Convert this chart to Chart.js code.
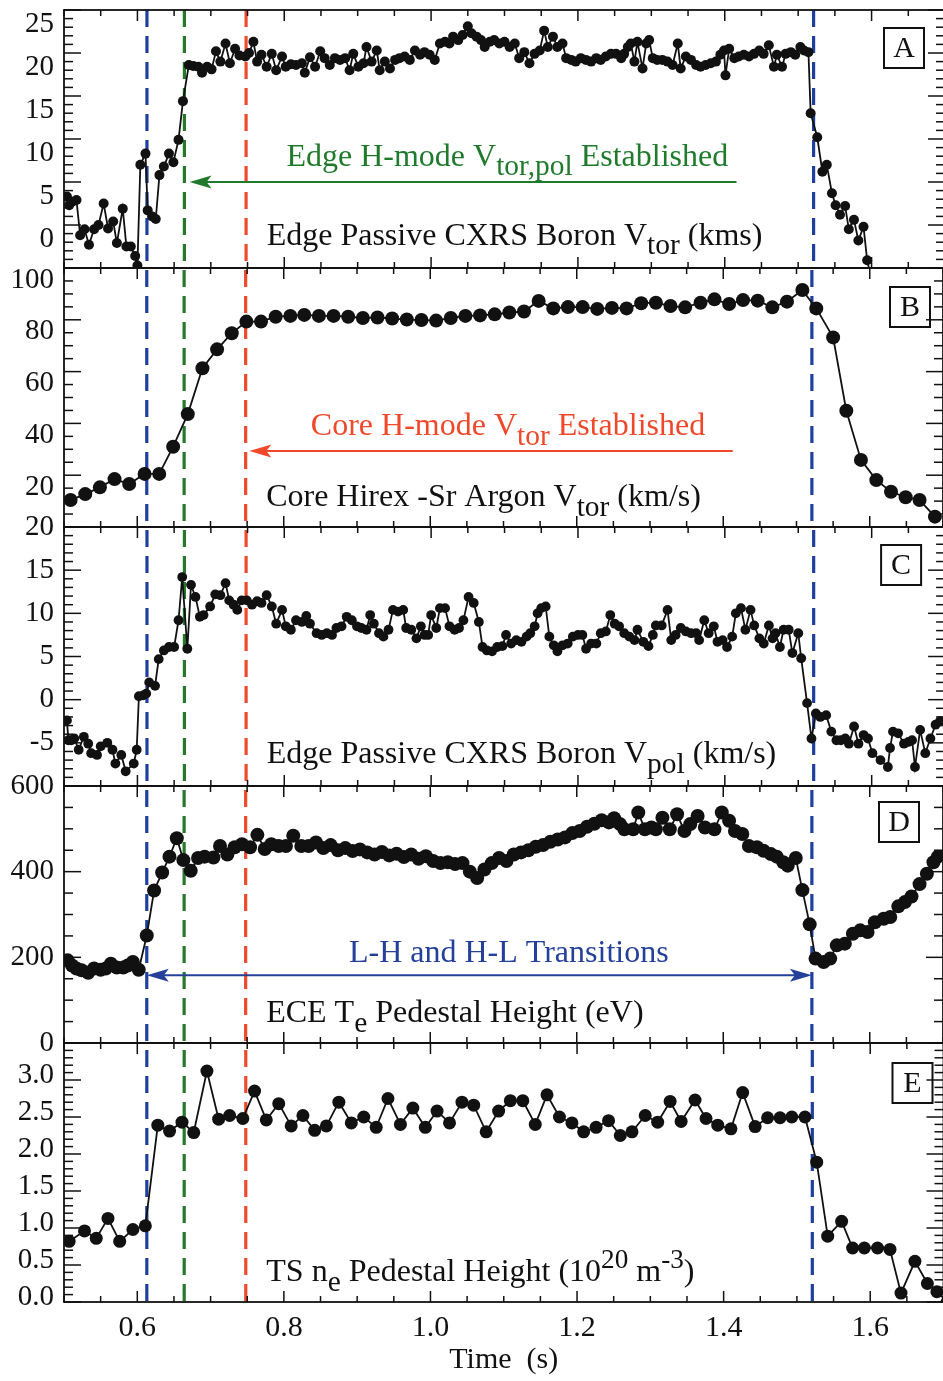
<!DOCTYPE html>
<html>
<head>
<meta charset="utf-8">
<script src="https://cdn.jsdelivr.net/npm/chart.js@4.4.1/dist/chart.umd.min.js"></script>
<style>
  html, body { margin: 0; padding: 0; background: #fff; }
  #wrap { position: relative; width: 943px; height: 1381px; overflow: hidden; background: #fff; }
  #wrap canvas { position: absolute; left: 0; top: 0; }
</style>
</head>
<body>
<div id="wrap">
  <canvas id="panelA" width="950" height="1381"></canvas>
  <canvas id="panelB" width="950" height="1381"></canvas>
  <canvas id="panelC" width="950" height="1381"></canvas>
  <canvas id="panelD" width="950" height="1381"></canvas>
  <canvas id="panelE" width="950" height="1381"></canvas>
</div>
<script>
// [time (s), value] samples for each trace

// edge passive CXRS boron toroidal velocity (km/s)
var edgeVtor = [
  [0.504,3.3],[0.507,2.3],[0.511,2.7],[0.517,2.9],[0.522,-1.2],[0.528,-0.5],[0.534,-2.3],[0.541,-0.5],
  [0.547,0.0],[0.554,2.5],[0.560,-0.4],[0.567,0.4],[0.572,-2.1],[0.580,1.9],[0.585,-2.5],[0.591,-2.5],
  [0.597,-3.6],[0.600,-4.7],[0.604,7.0],[0.611,8.3],[0.614,1.7],[0.620,1.0],[0.625,0.7],[0.630,5.8],
  [0.636,6.8],[0.643,8.3],[0.649,7.3],[0.656,9.9],[0.662,14.4],[0.670,18.6],[0.676,18.5],[0.683,18.4],
  [0.688,17.7],[0.695,18.4],[0.701,18.1],[0.707,20.2],[0.713,19.0],[0.720,21.1],[0.726,18.8],[0.733,20.5],
  [0.739,19.7],[0.747,19.6],[0.752,20.0],[0.758,21.3],[0.763,19.0],[0.769,19.8],[0.776,18.4],[0.783,19.9],
  [0.789,18.0],[0.797,19.6],[0.802,18.4],[0.809,18.7],[0.816,18.6],[0.824,18.8],[0.828,17.7],[0.835,19.5],
  [0.842,18.4],[0.849,20.2],[0.855,19.4],[0.862,18.6],[0.869,19.4],[0.876,19.2],[0.883,19.4],[0.889,18.0],
  [0.894,19.9],[0.901,18.4],[0.908,18.8],[0.912,20.7],[0.919,19.0],[0.926,20.3],[0.930,18.0],[0.937,19.0],
  [0.944,18.2],[0.951,19.2],[0.957,19.4],[0.964,19.6],[0.971,19.2],[0.978,20.3],[0.985,19.8],[0.991,20.1],
  [0.998,19.8],[1.005,19.2],[1.012,21.1],[1.019,21.3],[1.025,21.1],[1.030,21.9],[1.037,21.5],[1.043,22.1],
  [1.050,23.1],[1.055,22.3],[1.062,21.9],[1.068,21.5],[1.073,20.7],[1.080,21.3],[1.086,21.5],[1.093,21.1],
  [1.100,21.3],[1.107,20.7],[1.114,21.1],[1.120,19.4],[1.127,20.1],[1.134,18.8],[1.141,19.9],[1.148,20.3],
  [1.154,22.6],[1.159,20.7],[1.166,21.9],[1.172,20.7],[1.179,21.1],[1.184,19.4],[1.191,19.2],[1.197,19.0],
  [1.204,19.4],[1.211,19.2],[1.218,19.0],[1.225,19.4],[1.231,19.2],[1.238,19.6],[1.245,19.9],[1.252,19.9],
  [1.259,19.4],[1.263,19.9],[1.268,20.7],[1.272,21.1],[1.277,19.0],[1.281,21.3],[1.288,18.2],[1.293,21.1],
  [1.297,21.5],[1.302,19.4],[1.308,19.2],[1.315,19.2],[1.322,19.0],[1.329,18.6],[1.336,21.1],[1.340,18.2],
  [1.347,19.6],[1.354,19.2],[1.361,18.6],[1.367,18.4],[1.374,18.6],[1.381,18.8],[1.388,19.0],[1.394,19.8],
  [1.399,20.3],[1.401,17.4],[1.406,20.5],[1.413,19.4],[1.419,19.6],[1.426,19.8],[1.433,19.6],[1.440,19.9],
  [1.447,20.3],[1.453,19.9],[1.460,20.9],[1.467,18.4],[1.471,19.8],[1.478,18.4],[1.483,19.9],[1.490,20.1],
  [1.496,19.8],[1.503,20.7],[1.508,20.3],[1.514,20.1],[1.517,13.0],[1.526,10.2],[1.533,6.2],[1.539,7.0],
  [1.546,3.7],[1.551,2.3],[1.557,1.2],[1.564,2.2],[1.569,-0.5],[1.576,0.6],[1.582,-1.8],[1.589,-0.2],
  [1.594,-4.1],[1.598,-5.6]
];

// core Hirex-Sr argon toroidal velocity (km/s)
var coreVtor = [
  [0.509,10.4],[0.529,12.7],[0.549,15.3],[0.569,18.5],[0.589,16.6],[0.610,20.5],[0.630,20.5],[0.649,31.0],
  [0.669,43.6],[0.689,61.3],[0.709,68.6],[0.729,74.8],[0.749,79.3],[0.769,79.3],[0.789,81.2],[0.809,81.5],
  [0.828,81.9],[0.848,81.5],[0.868,81.5],[0.888,81.2],[0.908,80.7],[0.928,80.9],[0.948,80.5],[0.968,80.1],
  [0.988,79.9],[1.008,79.7],[1.028,80.7],[1.048,81.5],[1.068,81.7],[1.088,82.1],[1.108,82.8],[1.128,83.2],
  [1.148,87.3],[1.168,84.4],[1.188,84.9],[1.208,84.9],[1.228,84.2],[1.248,84.6],[1.268,84.4],[1.288,86.4],
  [1.308,86.6],[1.328,85.3],[1.348,84.8],[1.369,86.6],[1.388,87.9],[1.408,86.1],[1.427,87.6],[1.447,87.4],
  [1.467,84.8],[1.487,87.0],[1.508,91.5],[1.527,84.4],[1.550,73.2],[1.568,44.9],[1.588,25.9],[1.609,18.1],
  [1.629,13.6],[1.649,11.5],[1.668,10.4],[1.689,4.0]
];

// edge passive CXRS boron poloidal velocity (km/s)
var edgeVpol = [
  [0.504,-2.4],[0.506,-4.7],[0.510,-4.7],[0.514,-4.5],[0.520,-5.8],[0.527,-4.3],[0.533,-5.1],[0.537,-6.2],
  [0.545,-6.4],[0.550,-5.4],[0.559,-5.0],[0.566,-5.8],[0.570,-7.4],[0.578,-6.4],[0.584,-8.3],[0.595,-7.4],
  [0.599,-5.8],[0.602,0.4],[0.608,0.5],[0.612,0.7],[0.616,2.0],[0.624,1.6],[0.629,4.7],[0.636,5.7],
  [0.643,6.1],[0.650,6.1],[0.656,9.2],[0.661,14.2],[0.668,5.9],[0.673,13.3],[0.679,11.9],[0.685,9.6],
  [0.690,9.8],[0.699,10.8],[0.706,12.2],[0.713,12.1],[0.720,13.5],[0.725,11.5],[0.731,11.0],[0.736,10.4],
  [0.742,11.5],[0.749,11.5],[0.756,11.0],[0.763,11.4],[0.769,11.2],[0.776,12.1],[0.783,10.8],[0.789,8.8],
  [0.797,10.4],[0.802,8.5],[0.809,8.1],[0.816,9.2],[0.824,9.0],[0.830,9.7],[0.835,8.8],[0.844,7.7],
  [0.851,7.5],[0.858,7.7],[0.865,7.5],[0.871,8.3],[0.878,8.5],[0.885,9.6],[0.892,9.2],[0.899,8.5],
  [0.905,8.3],[0.912,8.1],[0.917,9.8],[0.922,8.8],[0.929,7.7],[0.935,7.3],[0.942,8.1],[0.948,10.4],
  [0.955,10.2],[0.962,10.4],[0.966,8.3],[0.973,8.1],[0.980,7.1],[0.986,8.5],[0.991,7.5],[0.996,7.5],
  [1.000,9.8],[1.007,8.3],[1.012,10.6],[1.019,10.6],[1.025,8.5],[1.032,8.1],[1.038,8.3],[1.044,9.2],
  [1.051,11.9],[1.058,11.2],[1.065,9.0],[1.070,6.1],[1.076,5.7],[1.083,5.6],[1.090,6.1],[1.097,6.2],
  [1.102,7.5],[1.109,6.5],[1.116,6.9],[1.123,6.7],[1.130,7.3],[1.135,7.7],[1.141,8.5],[1.145,10.0],
  [1.150,10.6],[1.156,10.8],[1.161,7.3],[1.167,6.3],[1.172,5.6],[1.179,6.3],[1.186,6.5],[1.193,7.3],
  [1.200,7.5],[1.206,7.5],[1.211,5.9],[1.218,6.5],[1.225,6.5],[1.231,7.7],[1.238,7.9],[1.244,9.8],
  [1.250,8.8],[1.256,8.5],[1.263,7.7],[1.270,7.3],[1.277,6.9],[1.281,8.1],[1.289,6.7],[1.296,6.2],
  [1.302,7.5],[1.306,8.6],[1.314,8.6],[1.322,10.4],[1.327,6.9],[1.333,7.5],[1.340,8.3],[1.347,7.9],
  [1.354,7.7],[1.361,7.7],[1.365,6.9],[1.372,9.2],[1.378,7.7],[1.385,8.5],[1.390,6.7],[1.397,6.9],
  [1.403,6.1],[1.410,7.3],[1.415,10.0],[1.422,10.6],[1.428,8.1],[1.435,10.4],[1.440,8.6],[1.447,7.1],
  [1.453,6.5],[1.460,8.6],[1.465,7.1],[1.469,7.7],[1.475,6.1],[1.480,8.1],[1.487,8.1],[1.492,5.4],
  [1.500,7.7],[1.504,4.8],[1.512,-0.4],[1.518,-4.5],[1.524,-1.6],[1.530,-2.0],[1.538,-1.8],[1.545,-3.7],
  [1.552,-4.7],[1.558,-4.7],[1.564,-4.5],[1.569,-5.1],[1.576,-3.1],[1.582,-5.1],[1.589,-4.1],[1.595,-4.5],
  [1.601,-6.2],[1.612,-7.0],[1.622,-7.8],[1.625,-5.6],[1.629,-3.7],[1.636,-3.9],[1.644,-5.1],[1.650,-4.9],
  [1.655,-4.7],[1.659,-7.8],[1.666,-3.5],[1.673,-6.2],[1.680,-4.5],[1.687,-2.9],[1.693,-2.5]
];

// ECE electron temperature pedestal height (eV)
var pedTe = [
  [0.505,193],[0.511,181],[0.517,174],[0.524,170],[0.533,164],[0.541,174],[0.550,171],[0.557,174],
  [0.564,185],[0.572,176],[0.581,176],[0.587,181],[0.594,189],[0.602,171],[0.613,251],[0.623,356],
  [0.634,398],[0.644,435],[0.654,478],[0.663,427],[0.673,402],[0.683,432],[0.692,435],[0.704,433],
  [0.713,460],[0.723,440],[0.733,457],[0.743,464],[0.754,457],[0.764,486],[0.774,453],[0.783,464],
  [0.793,460],[0.803,460],[0.813,484],[0.824,460],[0.834,460],[0.844,468],[0.854,455],[0.864,462],
  [0.874,450],[0.884,455],[0.894,448],[0.904,452],[0.914,445],[0.924,440],[0.934,446],[0.944,438],
  [0.954,442],[0.964,434],[0.974,440],[0.984,430],[0.994,436],[1.004,425],[1.014,420],[1.024,422],
  [1.034,418],[1.044,420],[1.054,400],[1.064,385],[1.074,405],[1.084,420],[1.094,432],[1.104,425],
  [1.114,440],[1.124,445],[1.134,450],[1.144,458],[1.154,462],[1.164,470],[1.174,475],[1.184,480],
  [1.194,490],[1.204,495],[1.214,505],[1.224,512],[1.234,520],[1.244,515],[1.251,525],[1.259,511],
  [1.265,499],[1.277,499],[1.284,538],[1.293,499],[1.302,503],[1.308,499],[1.317,526],[1.327,499],
  [1.337,534],[1.347,495],[1.355,511],[1.365,530],[1.375,503],[1.388,499],[1.398,538],[1.408,519],
  [1.416,495],[1.426,488],[1.435,460],[1.446,457],[1.455,449],[1.465,441],[1.473,435],[1.482,422],
  [1.488,414],[1.499,432],[1.508,357],[1.518,277],[1.526,197],[1.537,189],[1.546,197],[1.555,228],
  [1.566,232],[1.577,255],[1.587,263],[1.597,259],[1.607,282],[1.619,290],[1.628,294],[1.639,319],
  [1.648,329],[1.657,342],[1.668,371],[1.678,395],[1.687,422],[1.693,435]
];

// Thomson scattering electron density pedestal height (1e20 m^-3)
var pedNe = [
  [0.507,0.82],[0.528,0.96],[0.544,0.86],[0.560,1.13],[0.576,0.82],[0.594,0.98],[0.611,1.03],[0.628,2.39],
  [0.644,2.31],[0.661,2.43],[0.677,2.29],[0.695,3.12],[0.711,2.47],[0.726,2.52],[0.744,2.48],[0.760,2.85],
  [0.776,2.46],[0.793,2.68],[0.810,2.38],[0.826,2.52],[0.842,2.32],[0.858,2.38],[0.875,2.70],[0.892,2.42],
  [0.909,2.50],[0.926,2.36],[0.942,2.75],[0.959,2.40],[0.976,2.62],[0.993,2.36],[1.009,2.58],[1.026,2.42],
  [1.043,2.70],[1.059,2.66],[1.076,2.30],[1.093,2.58],[1.109,2.72],[1.126,2.72],[1.143,2.40],[1.159,2.80],
  [1.176,2.50],[1.193,2.42],[1.209,2.30],[1.226,2.36],[1.243,2.45],[1.259,2.25],[1.275,2.30],[1.293,2.52],
  [1.310,2.43],[1.327,2.71],[1.342,2.44],[1.361,2.73],[1.376,2.48],[1.392,2.39],[1.410,2.34],[1.426,2.83],
  [1.443,2.37],[1.460,2.49],[1.477,2.49],[1.493,2.50],[1.511,2.50],[1.527,1.89],[1.542,0.89],[1.561,1.09],
  [1.576,0.73],[1.592,0.73],[1.610,0.73],[1.627,0.71],[1.642,0.12],[1.661,0.55],[1.678,0.25],[1.691,0.14],
  [1.705,0.0]
];

var timeTicks = [0.6, 0.8, 1.0, 1.2, 1.4, 1.6];

var ink = '#111111';
var green = '#1f7a2c';
var red = '#f0482a';
var blue = '#24409a';
var serif = '"Liberation Serif", "Times New Roman", serif';

// L-H, edge H-mode, core H-mode and H-L times (s)
var markers = [[0.613, '#1f3f9e'], [0.664, '#27782b'], [0.748, '#ee4a2c'], [1.521, '#1f3f9e']];

var plotLeft = 64, plotRight = 946, H = 1381, W = 950;

var panels = [
  { key: 'A', series: edgeVtor, top: 10, bottom: 268, min: -5, max: 25, major: 5, minor: 1,
    labels: [0, 5, 10, 15, 20, 25], labelOffset: 14, radius: 5, digits: 0,
    tag: { text: 'A', right: 21, top: 18 },
    notes: [
      { t: 0.803, v: 6.9, color: green, parts: ['Edge H-mode V', '_tor,pol', ' Established'] },
      { t: 0.776, v: -2.3, color: ink, parts: ['Edge Passive CXRS Boron V', '_tor', ' (kms)'] }
    ],
    arrows: [{ from: 0.671, to: 1.416, v: 5, color: green, both: false }] },
  { key: 'B', series: coreVtor, top: 268, bottom: 527, min: 0, max: 100, major: 20, minor: 5,
    labels: [20, 40, 60, 80, 100], labelOffset: 12, radius: 7, digits: 0,
    tag: { text: 'B', right: 13, top: 19 },
    notes: [
      { t: 0.837, v: 35.5, color: red, parts: ['Core H-mode V', '_tor', ' Established'] },
      { t: 0.776, v: 8.1, color: ink, parts: ['Core Hirex -Sr Argon V', '_tor', ' (km/s)'] }
    ],
    arrows: [{ from: 0.753, to: 1.413, v: 29.3, color: red, both: false }] },
  { key: 'C', series: edgeVpol, top: 527, bottom: 786, min: -10, max: 20, major: 5, minor: 1,
    labels: [-5, 0, 5, 10, 15, 20], labelOffset: 0, radius: 4.9, digits: 0,
    tag: { text: 'C', right: 24, top: 18 },
    notes: [
      { t: 0.776, v: -7.35, color: ink, parts: ['Edge Passive CXRS Boron V', '_pol', ' (km/s)'] }
    ],
    arrows: [] },
  { key: 'D', series: pedTe, top: 786, bottom: 1043, min: 0, max: 600, major: 200, minor: 50,
    labels: [0, 200, 400, 600], labelOffset: 0, radius: 7, digits: 0,
    tag: { text: 'D', right: 24, top: 16 },
    notes: [
      { t: 0.889, v: 188, color: blue, parts: ['L-H and H-L Transitions'] },
      { t: 0.776, v: 49, color: ink, parts: ['ECE T', '_e', ' Pedestal Height (eV)'] }
    ],
    arrows: [{ from: 0.613, to: 1.521, v: 158, color: blue, both: true }] },
  { key: 'E', series: pedNe, top: 1043, bottom: 1302, min: 0, max: 3.5, major: 0.5, minor: 0.1,
    labels: [0, 0.5, 1, 1.5, 2, 2.5, 3], labelOffset: -5, radius: 6.5, digits: 1,
    tag: { text: 'E', right: 11, top: 20 },
    notes: [
      { t: 0.776, v: 0.28, color: ink, parts: ['TS n', '_e', ' Pedestal Height (10', '^20', ' m', '^-3', ')'] }
    ],
    arrows: [] }
];

function stepValues(lo, hi, step) {
  var out = [], i = Math.ceil(lo / step - 1e-6), v;
  for (; (v = i * step) <= hi + 1e-9; i++) out.push(v);
  return out;
}

function isMultiple(v, step) {
  var q = v / step;
  return Math.abs(q - Math.round(q)) < 1e-6;
}

function seg(ctx, x1, y1, x2, y2) {
  ctx.beginPath(); ctx.moveTo(x1, y1); ctx.lineTo(x2, y2); ctx.stroke();
}

function arrowHead(ctx, x, y, dir) {
  ctx.beginPath();
  ctx.moveTo(x, y);
  ctx.lineTo(x + dir * 22, y - 6.5);
  ctx.lineTo(x + dir * 17, y);
  ctx.lineTo(x + dir * 22, y + 6.5);
  ctx.closePath();
  ctx.fill();
}

// text runs: '_' prefix lowers a run, '^' raises it
function richText(ctx, parts, x, y, size, color) {
  ctx.fillStyle = color;
  ctx.textAlign = 'left';
  ctx.textBaseline = 'alphabetic';
  parts.forEach(function (p) {
    var sub = p.charAt(0) === '_', sup = p.charAt(0) === '^';
    var txt = sub || sup ? p.slice(1) : p;
    var s = sub ? size * 0.92 : sup ? size * 0.85 : size;
    ctx.font = s + 'px ' + serif;
    var dy = sub ? size * 0.3 : sup ? -size * 0.42 : 0;
    ctx.fillText(txt, x, y + dy);
    x += ctx.measureText(txt).width;
  });
}

function framePlugin(p) {
  return {
    id: 'frame' + p.key,
    beforeDatasetsDraw: function (chart) {
      var ctx = chart.ctx, a = chart.chartArea, xs = chart.scales.x;
      ctx.save();
      ctx.lineWidth = 3.2;
      ctx.setLineDash([17, 9]);
      ctx.lineDashOffset = a.top - 10; // keeps the dash pattern in step from panel to panel
      markers.forEach(function (m) {
        var px = xs.getPixelForValue(m[0]);
        ctx.strokeStyle = m[1];
        seg(ctx, px, a.top, px, a.bottom);
      });
      ctx.restore();
    },
    afterDatasetsDraw: function (chart) {
      var ctx = chart.ctx, a = chart.chartArea, xs = chart.scales.x, ys = chart.scales.y;
      ctx.save();
      ctx.strokeStyle = ink;
      ctx.lineWidth = 1.8;
      ctx.strokeRect(a.left, a.top, a.right - a.left, a.bottom - a.top);

      ctx.lineWidth = 1.5;
      stepValues(p.min, p.max, p.minor).forEach(function (v) {
        var y = ys.getPixelForValue(v), len = isMultiple(v, p.major) ? 17 : 9;
        seg(ctx, a.left, y, a.left + len, y);
        seg(ctx, a.right, y, a.right - len, y);
      });
      stepValues(0.5, 1.7, 0.05).forEach(function (t) {
        var x = xs.getPixelForValue(t), len = isMultiple(t, 0.2) ? 11 : 6;
        seg(ctx, x, a.top, x, a.top + len);
        seg(ctx, x, a.bottom, x, a.bottom - len);
      });

      p.arrows.forEach(function (ar) {
        var x1 = xs.getPixelForValue(ar.from), x2 = xs.getPixelForValue(ar.to), y = ys.getPixelForValue(ar.v);
        ctx.strokeStyle = ar.color;
        ctx.fillStyle = ar.color;
        ctx.lineWidth = 2;
        seg(ctx, x1 + 10, y, ar.both ? x2 - 10 : x2, y);
        arrowHead(ctx, x1, y, 1);
        if (ar.both) arrowHead(ctx, x2, y, -1);
      });

      p.notes.forEach(function (n) {
        richText(ctx, n.parts, xs.getPixelForValue(n.t), ys.getPixelForValue(n.v), 32, n.color);
      });

      var bw = 40, bh = 40, bx = a.right - p.tag.right - bw, by = a.top + p.tag.top;
      ctx.strokeStyle = ink;
      ctx.lineWidth = 2;
      ctx.strokeRect(bx, by, bw, bh);
      ctx.fillStyle = ink;
      ctx.font = '30px ' + serif;
      ctx.textAlign = 'center';
      ctx.textBaseline = 'middle';
      ctx.fillText(p.tag.text, bx + bw / 2, by + bh / 2 + 1);
      ctx.restore();
    }
  };
}

function makePanel(p) {
  var bottomAxis = p.key === 'E';
  return new Chart(document.getElementById('panel' + p.key), {
    type: 'line',
    data: {
      datasets: [{
        data: p.series.map(function (s) { return { x: s[0], y: s[1] }; }),
        borderColor: ink,
        borderWidth: 1.8,
        pointRadius: p.radius,
        pointHoverRadius: p.radius,
        pointBackgroundColor: ink,
        pointBorderWidth: 0,
        tension: 0
      }]
    },
    options: {
      responsive: false,
      animation: false,
      events: [],
      layout: { padding: { left: 0, right: W - plotRight, top: p.top, bottom: bottomAxis ? 0 : H - p.bottom } },
      scales: {
        x: {
          type: 'linear', min: 0.5, max: 1.7, display: bottomAxis,
          afterFit: function (s) {
            s.height = bottomAxis ? H - p.bottom : 0;
            s.paddingLeft = 0;
            s.paddingRight = 0;
          },
          afterBuildTicks: function (s) { s.ticks = timeTicks.map(function (v) { return { value: v }; }); },
          grid: { display: false, drawTicks: false },
          border: { display: false },
          ticks: {
            color: ink, padding: 8, maxRotation: 0, autoSkip: false,
            font: { family: serif, size: 30 },
            callback: function (v) { return v.toFixed(1); }
          },
          title: {
            display: true, text: 'Time  (s)', color: ink,
            font: { family: serif, size: 30, lineHeight: 1.2 },
            padding: { top: 0, bottom: 3 }
          }
        },
        y: {
          type: 'linear', min: p.min, max: p.max,
          afterFit: function (s) {
            // labels may hang past the frame; the panels are stacked edge to edge
            s.width = plotLeft;
            s.paddingTop = 0;
            s.paddingBottom = 0;
          },
          afterBuildTicks: function (s) { s.ticks = p.labels.map(function (v) { return { value: v }; }); },
          grid: { display: false, drawTicks: false },
          border: { display: false },
          ticks: {
            color: ink, padding: 10, autoSkip: false, labelOffset: p.labelOffset,
            font: { family: serif, size: 29 },
            callback: function (v) { return v.toFixed(p.digits); }
          }
        }
      },
      plugins: { legend: { display: false }, tooltip: { enabled: false } }
    },
    plugins: [framePlugin(p)]
  });
}

panels.forEach(makePanel);
</script>
</body>
</html>
